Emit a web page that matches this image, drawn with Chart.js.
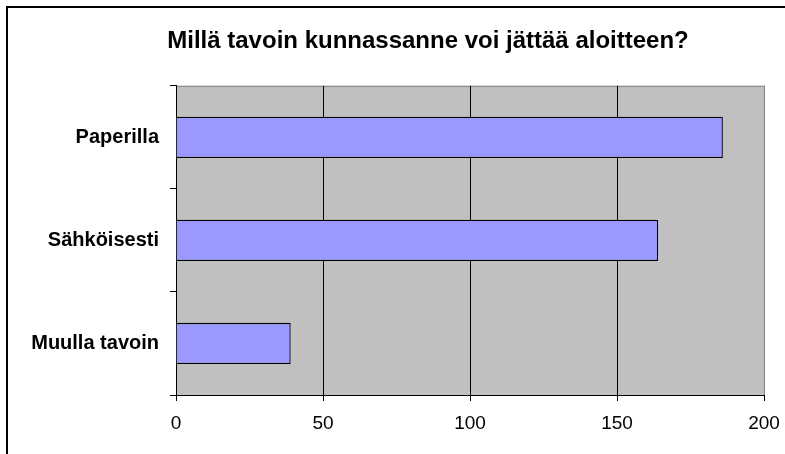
<!DOCTYPE html>
<html>
<head>
<meta charset="utf-8">
<script src="https://cdn.jsdelivr.net/npm/chart.js@4/dist/chart.umd.min.js"></script>
<style>
  html, body { margin: 0; padding: 0; background: #fff; }
  #wrap { width: 785px; height: 454px; }
</style>
</head>
<body>
<div id="wrap"><canvas id="chart" width="785" height="454"></canvas></div>
<script>
const categories = ['Paperilla', 'Sähköisesti', 'Muulla tavoin'];
const answers = [186, 164, 39];
const xTicks = [0, 50, 100, 150, 200];

// gray plot background + gray plot frame, like the old Excel default
const plotArea = {
  id: 'plotArea',
  beforeDraw(chart) {
    const { ctx, chartArea: a } = chart;
    ctx.save();
    ctx.fillStyle = '#C0C0C0';
    ctx.fillRect(a.left, a.top, a.right - a.left, a.bottom - a.top);
    ctx.strokeStyle = '#808080';
    ctx.lineWidth = 1;
    ctx.strokeRect(a.left + 0.5, a.top + 0.5, a.right - a.left, a.bottom - a.top);
    ctx.restore();
  },
  afterDraw(chart) {
    // outer chart frame (cut off on right/bottom in the original)
    const ctx = chart.ctx;
    ctx.save();
    ctx.strokeStyle = '#000';
    ctx.lineWidth = 2;
    ctx.strokeRect(7, 7, 800, 470);
    ctx.restore();
  }
};

new Chart(document.getElementById('chart').getContext('2d'), {
  type: 'bar',
  data: {
    labels: categories,
    datasets: [{
      data: answers,
      backgroundColor: '#9999FF',
      borderColor: '#000000',
      borderWidth: 1.3,
      barPercentage: 0.4,
      categoryPercentage: 1
    }]
  },
  plugins: [plotArea],
  options: {
    indexAxis: 'y',
    responsive: false,
    animation: false,
    // left padding only moves the title's centre; the y labels still reach out to the left
    layout: { padding: { left: 92, right: 21, top: 0, bottom: 0 } },
    plugins: {
      legend: { display: false },
      tooltip: { enabled: false },
      title: {
        display: true,
        text: 'Millä tavoin kunnassanne voi jättää aloitteen?',
        color: '#000',
        font: { family: 'Liberation Sans, Arial, sans-serif', size: 24, weight: 'bold' },
        padding: { top: 27, bottom: 30 }
      }
    },
    scales: {
      x: {
        min: 0,
        max: 200,
        afterBuildTicks: (scale) => { scale.ticks = xTicks.map(v => ({ value: v })); },
        afterFit: (scale) => {
          scale.height = 59;
          scale.paddingLeft = 0;
          scale.paddingRight = 0;
        },
        border: { display: true, color: '#000', width: 1 },
        grid: {
          color: (c) => c.tick && c.tick.value === 200 ? '#808080' : '#000',
          lineWidth: 1,
          tickLength: 6,
          tickColor: '#000'
        },
        ticks: {
          color: '#000',
          padding: 11,
          font: { family: 'Liberation Sans, Arial, sans-serif', size: 19 }
        }
      },
      y: {
        afterFit: (scale) => {
          scale.width = 84;
          // don't clip the category labels to the narrow axis box
          scale._computeLabelArea = () => undefined;
        },
        border: { display: true, color: '#000', width: 1 },
        grid: {
          offset: true,
          drawOnChartArea: false,
          tickLength: 6,
          color: '#000'
        },
        ticks: {
          color: '#000',
          padding: 11,
          font: { family: 'Liberation Sans, Arial, sans-serif', size: 20, weight: 'bold' }
        }
      }
    }
  }
});
</script>
</body>
</html>
